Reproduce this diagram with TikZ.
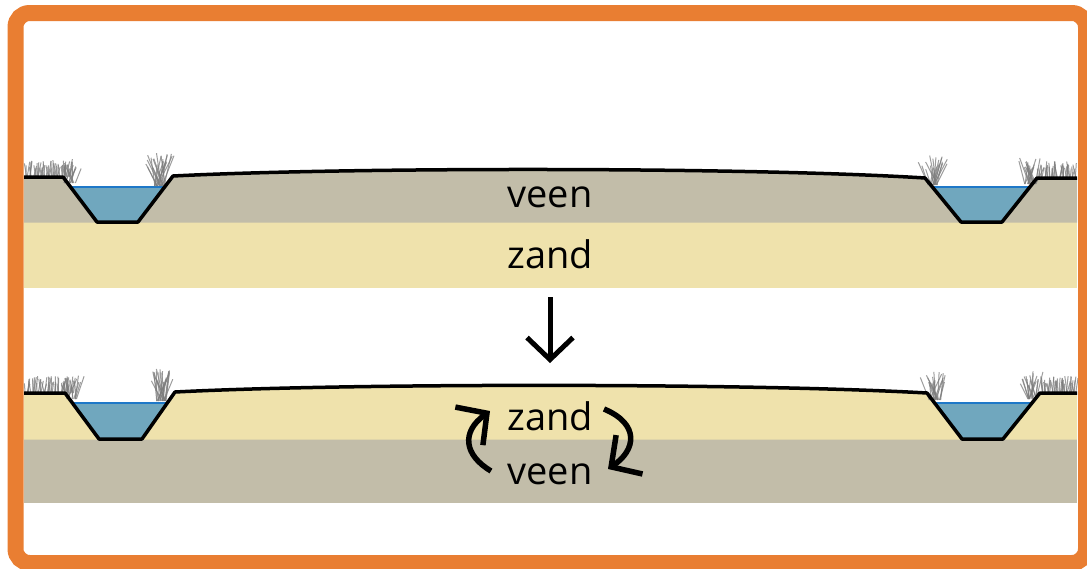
\documentclass[tikz,border=0pt]{standalone}
\usepackage{fontspec}
\setmainfont{Open Sans}
\usetikzlibrary{arrows.meta}

\definecolor{peat}{RGB}{194,189,169}
\definecolor{sandy}{RGB}{239,226,172}
\definecolor{water}{RGB}{112,167,190}
\definecolor{waterline}{RGB}{30,120,200}
\definecolor{framecol}{RGB}{233,126,50}
\definecolor{reed}{RGB}{125,125,125}

\tikzset{
  ground/.style={line width=3.5pt, line join=round, black},
  surface/.style={line width=2pt, waterline},
  lbl/.style={font=\fontsize{38}{40}\selectfont, inner sep=0pt, anchor=base},
  bigarrow/.style={line width=5pt, -{Straight Barb[length=22pt,width=46pt]}},
  turnarrow/.style={line width=5.5pt, -{Straight Barb[length=22pt,width=47pt]}},
  grassline/.style={reed, line width=1pt, opacity=0.75},
}

% a strip of short grass blades
\newcommand\drawgrass[6]{%
  \foreach \i in {1,...,#6}{%
    \pgfmathsetmacro\gx{#1+(#2-#1)*(\i-0.5)/#6+1.5*rand}%
    \pgfmathsetmacro\gh{#4+(#5-#4)*rnd}%
    \pgfmathsetmacro\gl{3*rand}%
    \draw[grassline] (\gx,#3) -- ++(\gl,-\gh);
  }}
% a reed clump fanning out from a bank
\newcommand\drawtuft[4]{%
  \foreach \i in {1,...,#4}{%
    \pgfmathsetmacro\gx{#1+6*rand}%
    \pgfmathsetmacro\ga{90+28*rand}%
    \pgfmathsetmacro\gh{#3*(0.55+0.45*rnd)}%
    \draw[grassline] (\gx,#2) -- ++({cos(\ga)*\gh},{-sin(\ga)*\gh});
  }}

\begin{document}
\begin{tikzpicture}[x=1pt,y=-1pt]
\pgfmathsetseed{42}
\useasboundingbox (0,0) rectangle (1087,568);
\fill[white] (0,0) rectangle (1087,568);

% ---------- upper profile: peat on sand ----------
\fill[sandy] (24,222) rectangle (1077,288);
\fill[peat] (24,177) -- (63,177) -- (97,222.5) -- (138,222.5) -- (173,176)
  .. controls (350,167) and (750,167) .. (925,178)
  -- (961,222.5) -- (1002,222.5) -- (1037,178) -- (1077,178)
  -- (1077,222.5) -- (24,222.5) -- cycle;
\fill[water] (70.6,187) -- (97,222) -- (138,222) -- (164.6,187) -- cycle;
\fill[water] (932.4,187) -- (961,222) -- (1002,222) -- (1029.8,187) -- cycle;
\draw[surface] (70.6,187) -- (164.6,187);
\draw[surface] (932.4,187) -- (1029.8,187);

\drawgrass{25}{72}{177}{9}{17}{45}
\drawtuft{70}{183}{24}{14}
\drawtuft{160}{186}{34}{22}
\drawtuft{933}{185}{30}{18}
\drawtuft{1030}{184}{28}{18}
\drawgrass{1038}{1076}{178}{9}{17}{38}

\draw[ground] (24,177) -- (63,177) -- (97,222) -- (138,222) -- (173,176)
  .. controls (350,167) and (750,167) .. (925,178)
  -- (961,222) -- (1002,222) -- (1037,178) -- (1077,178);

\node[lbl] (veenA) at (550,207) {veen};
\node[lbl] (zandA) at (550,268) {zand};

% ---------- transition arrow ----------
\coordinate (arrFrom) at (550,297);
\coordinate (arrTo) at (550,363);
\draw[bigarrow] (arrFrom) -- (arrTo);

% ---------- lower profile: sand on peat ----------
\fill[peat] (24,439) rectangle (1077,503);
\fill[sandy] (24,393) -- (65,393) -- (99,439.5) -- (142,439.5) -- (175,392)
  .. controls (350,383) and (750,383) .. (927,393)
  -- (962,439.5) -- (1003,439.5) -- (1040,393) -- (1077,393)
  -- (1077,439.5) -- (24,439.5) -- cycle;
\fill[water] (72.4,403) -- (99,439) -- (142,439) -- (167.3,403) -- cycle;
\fill[water] (934.6,403) -- (962,439) -- (1003,439) -- (1032,403) -- cycle;
\draw[surface] (72.4,403) -- (167.3,403);
\draw[surface] (934.6,403) -- (1032,403);

\drawgrass{25}{74}{393}{9}{17}{45}
\drawtuft{72}{399}{24}{14}
\drawtuft{162}{401}{34}{22}
\drawtuft{935}{400}{30}{18}
\drawtuft{1032}{399}{28}{18}
\drawgrass{1041}{1076}{393}{9}{17}{38}

\draw[ground] (24,393) -- (65,393) -- (99,439) -- (142,439) -- (175,392)
  .. controls (350,383) and (750,383) .. (927,393)
  -- (962,439) -- (1003,439) -- (1040,393) -- (1077,393);

\node[lbl] (zandB) at (550,430) {zand};
\node[lbl] (veenB) at (550,484) {veen};

% mixing arrows around the swapped layers
\coordinate (lStart) at (491,471);
\coordinate (lEnd) at (490,411);
\draw[turnarrow] (lStart) .. controls (464,455) and (461,432) .. (lEnd);
\coordinate (rStart) at (604,409);
\coordinate (rEnd) at (608,469);
\draw[turnarrow] (rStart) .. controls (640,424) and (636,450) .. (rEnd);

% ---------- frame ----------
\draw[framecol, line width=16pt, rounded corners=14pt] (15.5,13) rectangle (1086,563);
\end{tikzpicture}
\end{document}
